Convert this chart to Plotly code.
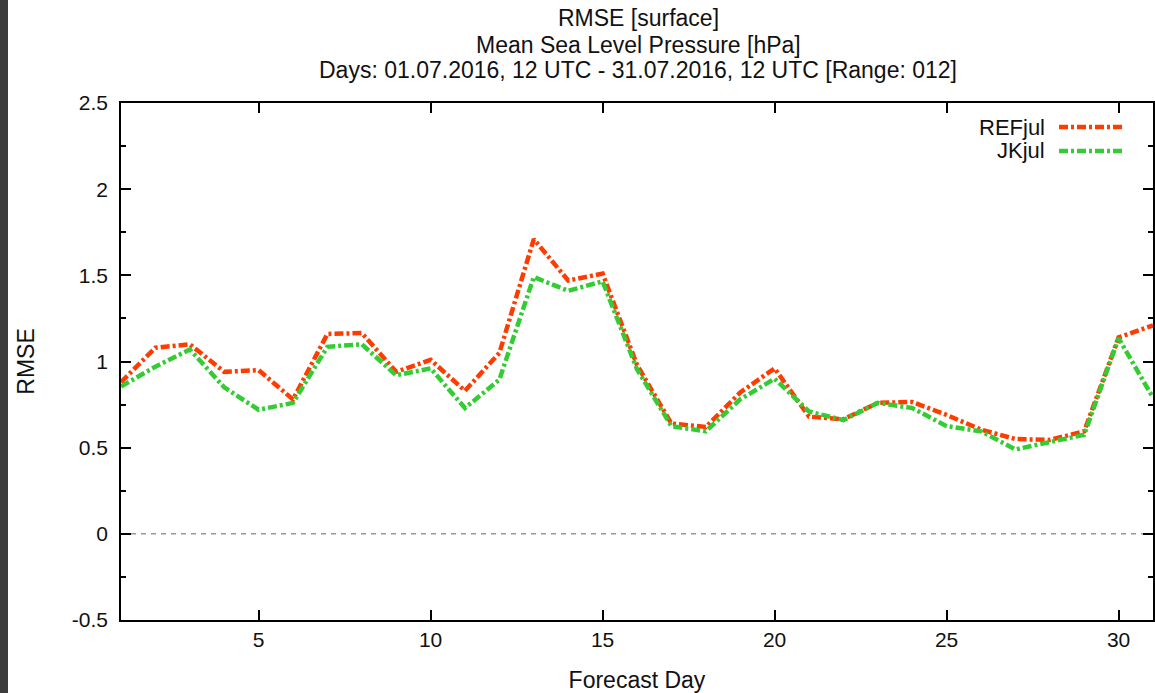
import plotly.graph_objects as go

# ---- data ----
days = list(range(1, 32))
ref_jul = [0.88, 1.08, 1.10, 0.94, 0.95, 0.78, 1.16, 1.165, 0.94, 1.01, 0.83, 1.05,
           1.71, 1.47, 1.51, 0.98, 0.64, 0.62, 0.82, 0.96, 0.68, 0.665, 0.76, 0.765,
           0.69, 0.605, 0.55, 0.545, 0.595, 1.14, 1.21]
jk_jul = [0.855, 0.97, 1.07, 0.85, 0.72, 0.76, 1.085, 1.10, 0.92, 0.96, 0.73, 0.895,
          1.49, 1.41, 1.465, 0.955, 0.625, 0.595, 0.78, 0.90, 0.71, 0.66, 0.76, 0.73,
          0.625, 0.595, 0.49, 0.53, 0.575, 1.135, 0.79]
series_names = ["REFjul", "JKjul"]
series_colors = ["#ff3c00", "#33cc33"]
title_lines = ["RMSE [surface]", "Mean Sea Level Pressure [hPa]",
               "Days: 01.07.2016, 12 UTC - 31.07.2016, 12 UTC [Range: 012]"]
x_ticks = [5, 10, 15, 20, 25, 30]
y_ticks = [-0.5, 0, 0.5, 1, 1.5, 2, 2.5]
y_tick_labels = ["-0.5", "0", "0.5", "1", "1.5", "2", "2.5"]

W, H = 1155, 693
L, R, T, B = 121, 2, 103, 73
PW, PH = W - L - R, H - T - B

def px_x(px):
    return (px - L) / PW

def px_y(py):
    return (H - B - py) / PH

FONT = "Liberation Sans, Arial, sans-serif"
DASH = "9px,3px,3px,3px"
TXT = 23

fig = go.Figure()
for name, vals, col in zip(series_names, [ref_jul, jk_jul], series_colors):
    fig.add_trace(go.Scatter(x=days, y=vals, mode="lines", name=name,
                             line=dict(color=col, width=4.5, dash=DASH),
                             showlegend=False))

shapes = []
# zero reference line
shapes.append(dict(type="line", xref="paper", x0=0, x1=1, yref="y", y0=0, y1=0,
                   line=dict(color="#999999", width=1.5, dash="5px,5px"), layer="below"))
# dark strip on left edge of the screenshot
shapes.append(dict(type="rect", xref="paper", yref="paper",
                   x0=px_x(0), x1=px_x(8), y0=px_y(H), y1=px_y(0),
                   fillcolor="#3c3c3c", line=dict(width=0)))

annotations = []
for txt, yy in zip(title_lines, [18, 45, 70]):
    annotations.append(dict(text=txt, xref="paper", yref="paper", x=px_x(638), y=px_y(yy),
                            xanchor="center", yanchor="middle", showarrow=False,
                            font=dict(family=FONT, size=TXT, color="#111")))
# legend (text left, sample right as in gnuplot)
for name, col, yy in zip(series_names, series_colors, [127, 151]):
    annotations.append(dict(text=name, xref="paper", yref="paper", x=px_x(1046), y=px_y(yy),
                            xanchor="right", yanchor="middle", showarrow=False,
                            borderpad=0,
                            font=dict(family=FONT, size=22, color="#111")))
    shapes.append(dict(type="line", xref="paper", yref="paper",
                       x0=px_x(1059), x1=px_x(1125), y0=px_y(yy), y1=px_y(yy),
                       line=dict(color=col, width=4.5, dash=DASH)))

fig.update_layout(
    width=W, height=H,
    margin=dict(l=L, r=R, t=T, b=B, pad=0, autoexpand=False),
    paper_bgcolor="white", plot_bgcolor="white",
    font=dict(family=FONT, size=21, color="#111"),
    shapes=shapes, annotations=annotations, showlegend=False,
)
fig.update_xaxes(range=[1, 31], tickvals=x_ticks, ticks="inside", ticklen=10, tickwidth=1.5,
                 tickcolor="black", showline=True, linecolor="black", linewidth=1.5,
                 mirror="ticks", showgrid=False, zeroline=False, automargin=False,
                 tickfont=dict(size=21),
                 title=dict(text="Forecast Day", standoff=22, font=dict(size=TXT)))
fig.update_yaxes(range=[-0.5, 2.5], tickvals=y_ticks, ticktext=y_tick_labels, ticks="inside",
                 ticklen=10, tickwidth=1.5, tickcolor="black", showline=True,
                 linecolor="black", linewidth=1.5, mirror="ticks", showgrid=False,
                 zeroline=False, automargin=False, ticklabelstandoff=7,
                 tickfont=dict(size=21),
                 minor=dict(dtick=0.25, tick0=0, ticks="inside", ticklen=5,
                            tickcolor="black", tickwidth=1.5, showgrid=False),
                 title=dict(text="RMSE", standoff=31, font=dict(size=TXT)))

fig.write_html("out.html", config={"displayModeBar": False},
               post_script="document.body.style.margin='0';")
